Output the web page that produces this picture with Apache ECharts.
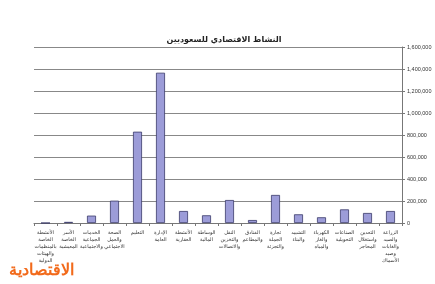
<!DOCTYPE html>
<html><head><meta charset="utf-8">
<script src="https://cdn.jsdelivr.net/npm/echarts@6/dist/echarts.min.js"></script>
<style>html,body{margin:0;padding:0;background:#fff}#c{width:435px;height:284px}</style>
</head><body><div id="c"></div>
<script>
const title = 'النشاط الاقتصادي للسعوديين';
const categories = [
  'الأنشطة الخاصة بالمنظمات والهيئات الدولية',
  'الأسر الخاصة المعيشية',
  'الخدمات الجماعية والاجتماعية',
  'الصحة والعمل الاجتماعي',
  'التعليم',
  'الإدارة العامة',
  'الأنشطة العقارية',
  'الوساطة المالية',
  'النقل والتخزين والاتصالات',
  'الفنادق والمطاعم',
  'تجارة الجملة والتجزئة',
  'التشييد والبناء',
  'الكهرباء والغاز والمياه',
  'الصناعات التحويلية',
  'التعدين واستغلال المحاجر',
  'الزراعة والصيد والغابات وصيد الأسماك'
];
const values = [0, 10000, 67000, 203000, 830000, 1366000, 109000, 70000, 209000, 27000, 255000, 79000, 52000, 124000, 91000, 109000];
const yTicks = [0, 200000, 400000, 600000, 800000, 1000000, 1200000, 1400000, 1600000];
const logoText = 'الاقتصادية';

const LABEL_FONT = '5px "DejaVu Sans"';
const ctx = document.createElement('canvas').getContext('2d');
ctx.font = LABEL_FONT;
function wrap(s, maxW) {
  const words = s.split(' ');
  const lines = [];
  let cur = '';
  for (const w of words) {
    const t = cur ? cur + ' ' + w : w;
    if (cur && ctx.measureText(t).width > maxW) { lines.push(cur); cur = w; }
    else cur = t;
  }
  if (cur) lines.push(cur);
  return lines.join('\n');
}

const chart = echarts.init(document.getElementById('c'));
chart.setOption({
  animation: false,
  title: {
    text: title, left: 219, top: 31, textAlign: 'center',
    textStyle: {fontSize: 8, fontWeight: 'bold', color: '#222', fontFamily: 'DejaVu Sans'}
  },
  grid: {left: 34, right: 33, top: 47, bottom: 61, outerBoundsMode: 'none', containLabel: false},
  xAxis: {
    type: 'category', data: categories,
    axisLine: {show: true, lineStyle: {color: '#777', width: 1}},
    axisTick: {show: true, length: 3, lineStyle: {color: '#777'}},
    axisLabel: {
      interval: 0, fontSize: 5, color: '#333', lineHeight: 7, margin: 6,
      fontFamily: 'DejaVu Sans', hideOverlap: false,
      formatter: v => wrap(v, 26)
    }
  },
  yAxis: {
    type: 'value', position: 'right', min: 0, max: yTicks[yTicks.length - 1], interval: 200000,
    axisLine: {show: true, lineStyle: {color: '#777'}},
    axisTick: {show: true, length: 3, lineStyle: {color: '#777'}},
    splitLine: {lineStyle: {color: '#888', width: 1}},
    axisLabel: {
      fontSize: 5.5, color: '#333', margin: 5, fontFamily: 'Liberation Sans',
      formatter: v => v.toLocaleString('en-US')
    }
  },
  series: [{
    type: 'bar', data: values, barWidth: 9,
    itemStyle: {color: '#9c9cd8', borderColor: '#3a3a6a', borderWidth: 0.8}
  }],
  graphic: [{
    type: 'text', left: 9, top: 262,
    style: {text: logoText, fontSize: 16, fontWeight: 'bold', fill: '#f26a1b', fontFamily: 'Noto Sans'}
  }]
});
</script></body></html>
